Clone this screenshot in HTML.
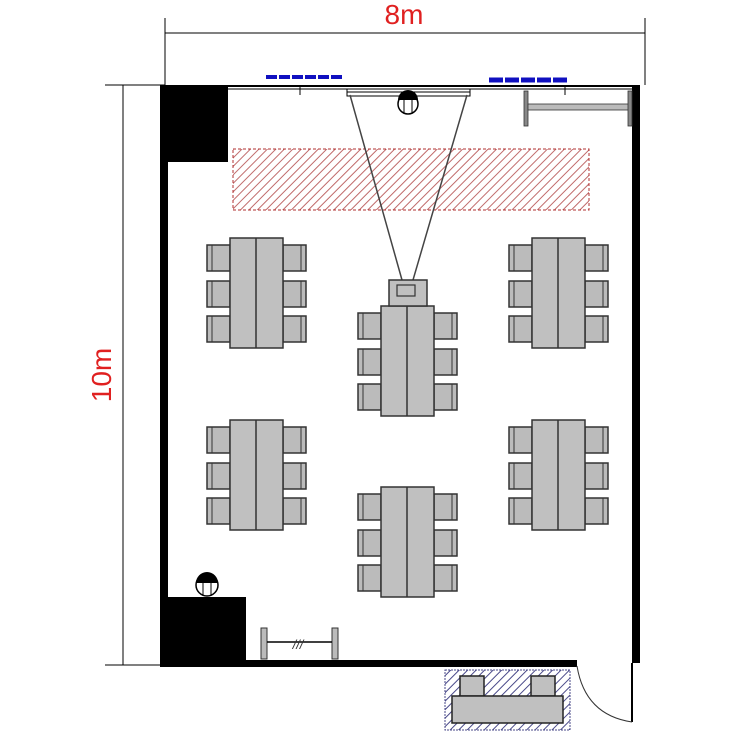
<!DOCTYPE html>
<html><head><style>body{margin:0;background:#fff}</style></head><body>
<svg width="750" height="750" viewBox="0 0 750 750" xmlns="http://www.w3.org/2000/svg" font-family="Liberation Sans, sans-serif">
<defs>
<pattern id="rh" patternUnits="userSpaceOnUse" width="6" height="6" patternTransform="rotate(45)"><line x1="0" y1="0" x2="0" y2="6" stroke="#c06a6a" stroke-width="2"/></pattern>
<pattern id="bh" patternUnits="userSpaceOnUse" width="6" height="6" patternTransform="rotate(45)"><line x1="0" y1="0" x2="0" y2="6" stroke="#4a4a8a" stroke-width="2"/></pattern>
<g id="ch"><rect x="0" y="0" width="23" height="26" fill="#bbb" stroke="#333" stroke-width="1.5"/><line x1="5" y1="0" x2="5" y2="26" stroke="#333"/></g>
<g id="chr"><rect x="0" y="0" width="23" height="26" fill="#bbb" stroke="#333" stroke-width="1.5"/><line x1="18" y1="0" x2="18" y2="26" stroke="#333"/></g>
</defs>
<line x1="165" y1="18" x2="165" y2="85" stroke="#000"/>
<line x1="645" y1="18" x2="645" y2="85" stroke="#000"/>
<line x1="165" y1="33" x2="645" y2="33" stroke="#000"/>
<text x="404" y="24" font-size="28" fill="#e02020" text-anchor="middle">8m</text>
<line x1="105" y1="85" x2="165" y2="85" stroke="#000"/>
<line x1="105" y1="665" x2="165" y2="665" stroke="#000"/>
<line x1="123" y1="85" x2="123" y2="665" stroke="#000"/>
<text transform="translate(111,375) rotate(-90)" font-size="28" fill="#e02020" text-anchor="middle">10m</text>
<line x1="266" y1="77" x2="344" y2="77" stroke="#1010c0" stroke-width="4" stroke-dasharray="11,2"/>
<line x1="489" y1="80" x2="568" y2="80" stroke="#1010c0" stroke-width="5" stroke-dasharray="14,2"/>
<rect x="160" y="85" width="68" height="77" fill="#000"/>
<rect x="160" y="85" width="8" height="580" fill="#000"/>
<rect x="632" y="85" width="8" height="578" fill="#000"/>
<rect x="160" y="660" width="417" height="7" fill="#000"/>
<rect x="160" y="597" width="86" height="68" fill="#000"/>
<line x1="228" y1="86" x2="632" y2="86" stroke="#000" stroke-width="2"/>
<line x1="228" y1="89" x2="632" y2="89" stroke="#000" stroke-width="1"/>
<line x1="300" y1="86" x2="300" y2="95" stroke="#000"/>
<line x1="565" y1="86" x2="565" y2="95" stroke="#000"/>
<rect x="347" y="89" width="123" height="7" fill="#fff" stroke="#000"/>
<line x1="347" y1="92" x2="470" y2="92" stroke="#000"/>
<circle cx="408" cy="104" r="10" fill="#fff" stroke="#000" stroke-width="1.5"/>
<line x1="404" y1="95" x2="404" y2="114" stroke="#000"/><line x1="412" y1="95" x2="412" y2="114" stroke="#000"/>
<path d="M398 100 A10 10 0 0 1 418 100 Z" fill="#000"/>
<rect x="233" y="149" width="356" height="61" fill="url(#rh)" stroke="#b03030" stroke-dasharray="3,2"/>
<line x1="350" y1="95" x2="402" y2="280" stroke="#444" stroke-width="1.5"/>
<line x1="467" y1="95" x2="413" y2="280" stroke="#444" stroke-width="1.5"/>
<rect x="524" y="91" width="4" height="35" fill="#888" stroke="#333" stroke-width="0.8"/>
<rect x="528" y="104" width="102" height="6" fill="#bbb" stroke="#333" stroke-width="0.8"/>
<rect x="628" y="91" width="4" height="35" fill="#888" stroke="#333" stroke-width="0.8"/>
<g id="t1">
<use href="#ch" x="207" y="245"/><use href="#ch" x="207" y="281"/><use href="#ch" x="207" y="316"/>
<use href="#chr" x="283" y="245"/><use href="#chr" x="283" y="281"/><use href="#chr" x="283" y="316"/>
<rect x="230" y="238" width="53" height="110" fill="#c0c0c0" stroke="#333" stroke-width="1.5"/>
<line x1="256" y1="238" x2="256" y2="348" stroke="#333" stroke-width="1.5"/>
</g>
<use href="#t1" x="302" y="0"/>
<use href="#t1" x="0" y="182"/>
<use href="#t1" x="302" y="182"/>
<use href="#t1" x="151" y="68"/>
<use href="#t1" x="151" y="249"/>
<rect x="389" y="280" width="38" height="26" fill="#c0c0c0" stroke="#333" stroke-width="1.5"/>
<rect x="397" y="285" width="18" height="11" fill="#c0c0c0" stroke="#333" stroke-width="1.2"/>
<circle cx="207" cy="585" r="11" fill="#fff" stroke="#000" stroke-width="1.5"/>
<line x1="203" y1="576" x2="203" y2="596" stroke="#000"/><line x1="211" y1="576" x2="211" y2="596" stroke="#000"/>
<path d="M196 583 A11 11 0 0 1 218 583 Z" fill="#000"/>
<rect x="261" y="628" width="6" height="31" fill="#bbb" stroke="#333"/>
<rect x="332" y="628" width="6" height="31" fill="#bbb" stroke="#333"/>
<line x1="267" y1="642" x2="332" y2="642" stroke="#000" stroke-width="1.5"/>
<text x="298" y="649" font-size="13" font-style="italic" fill="#333" text-anchor="middle">///</text>
<line x1="632" y1="663" x2="632" y2="722" stroke="#000" stroke-width="2"/>
<path d="M577 666 Q585 715 632 722" fill="none" stroke="#333"/>
<rect x="445" y="670" width="125" height="60" fill="url(#bh)" stroke="#4a4a8a" stroke-dasharray="2,1"/>
<rect x="460" y="676" width="24" height="20" fill="#c0c0c0" stroke="#222" stroke-width="1.5"/>
<rect x="531" y="676" width="24" height="20" fill="#c0c0c0" stroke="#222" stroke-width="1.5"/>
<rect x="452" y="696" width="111" height="27" fill="#c0c0c0" stroke="#222" stroke-width="1.5"/>
</svg>
</body></html>
